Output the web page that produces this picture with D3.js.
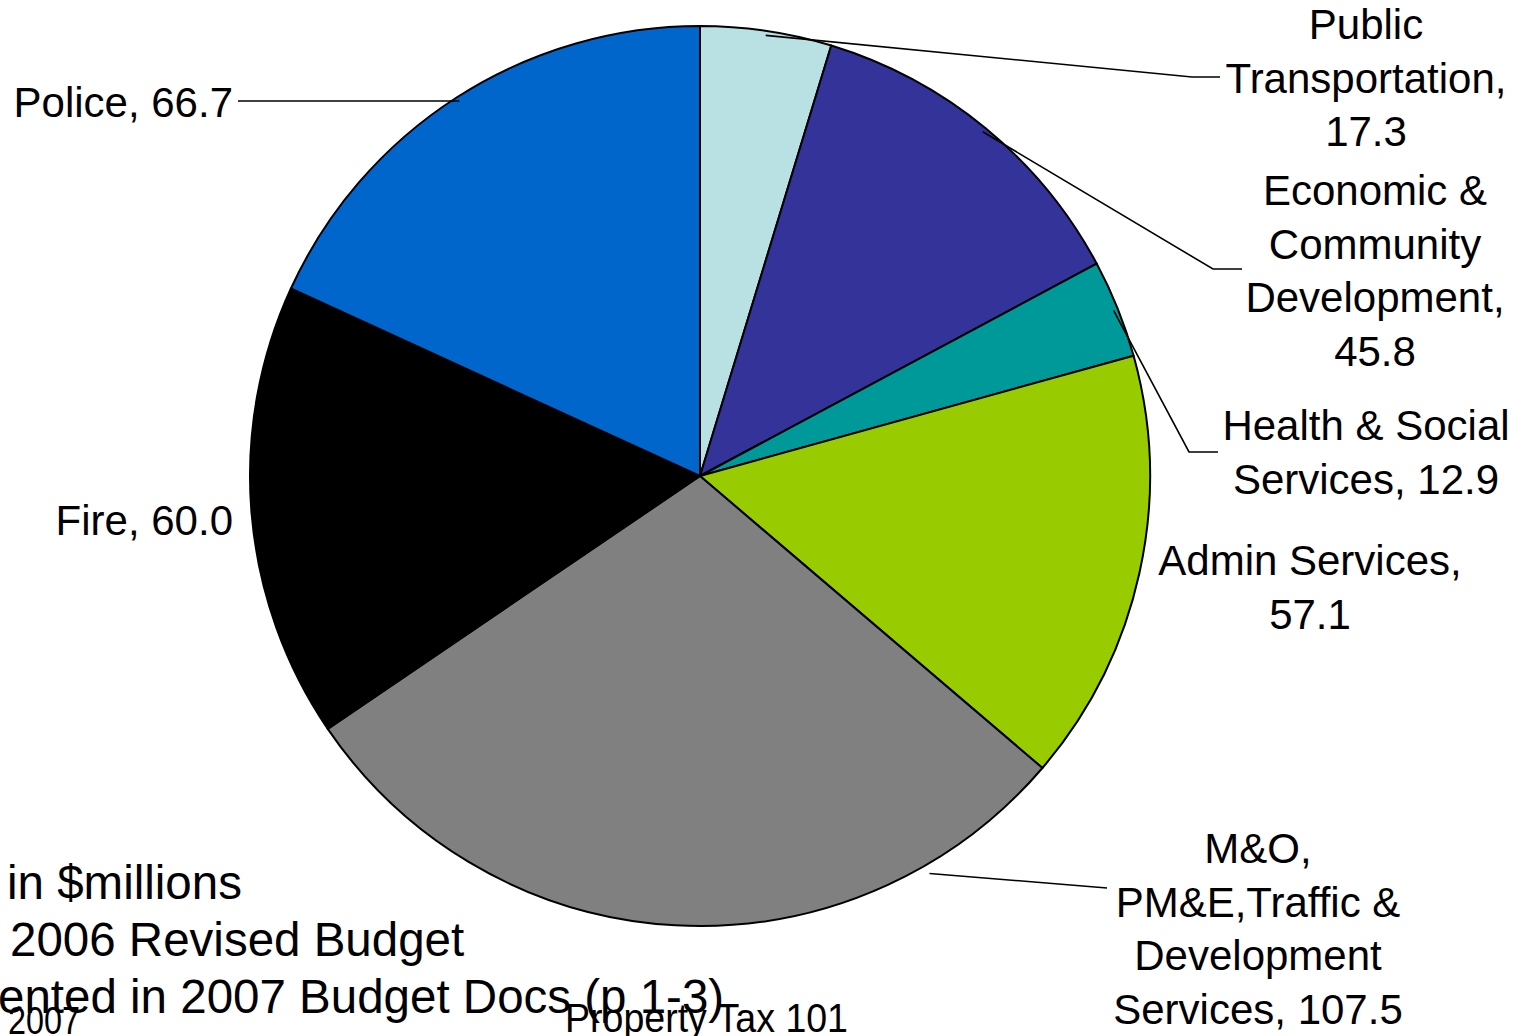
<!DOCTYPE html>
<html>
<head>
<meta charset="utf-8">
<script src="https://cdn.jsdelivr.net/npm/d3@7"></script>
<style>
  html, body { margin: 0; padding: 0; background: #fff; overflow: hidden; }
  text { font-family: "Liberation Sans", Arial, sans-serif; fill: #000; }
</style>
</head>
<body>
<div id="pie"></div>
<script>
// budget by department, $millions (2006 revised)
var categories = ["Public Transportation", "Economic & Community Development",
  "Health & Social Services", "Admin Services",
  "M&O, PM&E,Traffic & Development Services", "Fire", "Police"];
var values = [17.3, 45.8, 12.9, 57.1, 107.5, 60.0, 66.7];
var labelLines = [
  ["Public", "Transportation,", "17.3"],
  ["Economic &", "Community", "Development,", "45.8"],
  ["Health & Social", "Services, 12.9"],
  ["Admin Services,", "57.1"],
  ["M&O,", "PM&E,Traffic &", "Development", "Services, 107.5"],
  ["Fire, 60.0"],
  ["Police, 66.7"]
];
var noteLines = ["in $millions", "2006 Revised Budget", "ented in 2007 Budget Docs (p 1-3)"];
var footerLeft = "2007";
var footerCenter = "Property Tax 101";

var width = 1526;
var height = 1036;
var radius = 450;
var cx = 700, cy = 476;
var lineH = 53.5;

var color = d3.scaleOrdinal()
  .domain(categories)
  .range(["#B9E0E3", "#333399", "#009999", "#99CC00", "#808080", "#000000", "#0066CC"]);

// where each label sits and how its leader line runs
var layout = [
  {x: 1366, y: 39, anchor: "middle", lead: [[1192, 77], [1220, 77]]},
  {x: 1375, y: 205, anchor: "middle", lead: [[1213, 269], [1242, 269]]},
  {x: 1366, y: 440, anchor: "middle", lead: [[1189, 452], [1218, 452]]},
  {x: 1310, y: 575, anchor: "middle", lead: null},
  {x: 1258, y: 863, anchor: "middle", lead: [[1107, 888]], angle: 150, k: 1.02},
  {x: 233, y: 535, anchor: "end", lead: null},
  {x: 233, y: 117, anchor: "end", lead: [[238, 101]]}
];

var svg = d3.select('#pie')
  .append('svg')
  .attr('width', width)
  .attr('height', height);

var g = svg.append('g')
  .attr('transform', 'translate(' + cx + ',' + cy + ')');

var pie = d3.pie()
  .value(function (d) { return d; })
  .sort(null);

var arc = d3.arc()
  .innerRadius(0)
  .outerRadius(radius);

var slices = pie(values);

g.selectAll('path')
  .data(slices)
  .enter()
  .append('path')
  .attr('d', arc)
  .attr('fill', function (d, i) { return color(categories[i]); })
  .attr('stroke', '#000')
  .attr('stroke-width', 2)
  .attr('stroke-linejoin', 'round');

// leader lines
var line = d3.line();
slices.forEach(function (d, i) {
  var L = layout[i];
  if (!L.lead) return;
  var a = L.angle != null ? L.angle * Math.PI / 180 : (d.startAngle + d.endAngle) / 2;
  var r = radius * (L.k || 0.99);
  var pts = [[cx + r * Math.sin(a), cy - r * Math.cos(a)]].concat(L.lead);
  svg.append('path')
    .attr('d', line(pts))
    .attr('fill', 'none')
    .attr('stroke', '#000')
    .attr('stroke-width', 1.6);
});

// labels
labelLines.forEach(function (lines, i) {
  var L = layout[i];
  var t = svg.append('text')
    .attr('text-anchor', L.anchor)
    .style('font-size', '42px');
  lines.forEach(function (s, j) {
    t.append('tspan')
      .attr('x', L.x)
      .attr('y', L.y + j * lineH)
      .text(s);
  });
});

// note at bottom left (partly cut off)
var noteX = [7, 10, -2];
var noteY = [899, 956, 1013];
noteLines.forEach(function (s, j) {
  svg.append('text')
    .attr('x', noteX[j])
    .attr('y', noteY[j])
    .style('font-size', '47.5px')
    .text(s);
});

// slide footer
svg.append('text')
  .attr('x', 8)
  .attr('y', 1034)
  .attr('textLength', 72)
  .attr('lengthAdjust', 'spacingAndGlyphs')
  .style('font-size', '38px')
  .text(footerLeft);

svg.append('text')
  .attr('x', 565)
  .attr('y', 1032)
  .attr('textLength', 283)
  .attr('lengthAdjust', 'spacingAndGlyphs')
  .style('font-size', '40px')
  .text(footerCenter);
</script>
</body>
</html>
